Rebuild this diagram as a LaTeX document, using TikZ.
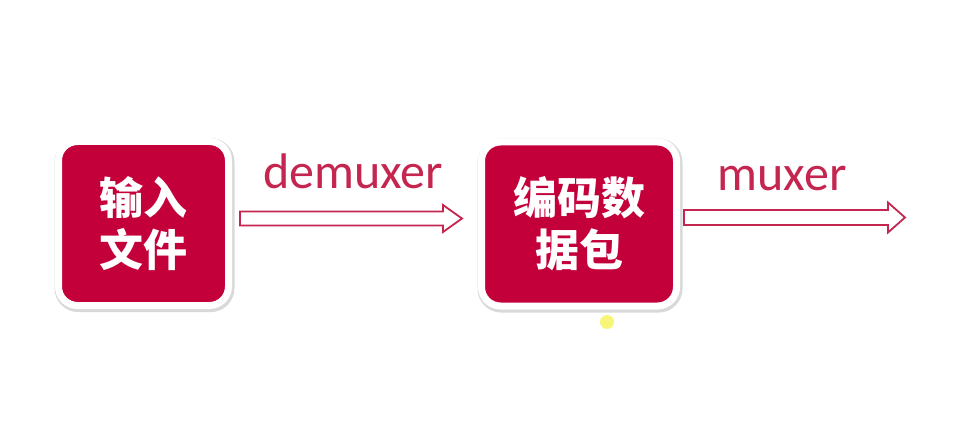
\documentclass[tikz,border=0pt]{standalone}
\usepackage{fontspec}
\setmainfont{Carlito}
\newfontfamily\cjk{Noto Sans CJK SC}
\usetikzlibrary{calc}
\definecolor{boxred}{RGB}{196,0,58}
\definecolor{txtred}{RGB}{196,38,80}
\definecolor{dotyellow}{RGB}{248,246,120}
\tikzset{
  redbox/.style={rectangle, rounded corners=19pt, fill=boxred, draw=white, line width=7pt,
    preaction={draw=black!15, line width=10pt, transform canvas={xshift=1pt,yshift=-1.6pt}},
    text=white, font=\cjk\bfseries\fontsize{44}{52}\selectfont, align=center, inner sep=0pt},
  label/.style={text=txtred, font=\fontsize{50}{50}\selectfont, anchor=base, inner sep=0pt},
  hollow/.style={draw=txtred, fill=white, line width=1.8pt, line join=miter},
}
\begin{document}
\begin{tikzpicture}[x=1pt,y=-1pt]
\useasboundingbox[fill=white] (0,0) rectangle (965,422);
\node[redbox, minimum width=170pt, minimum height=164pt] (b1) at (143.5,223.5) {输入\\文件};
\node[redbox, minimum width=195pt, minimum height=164pt] (b2) at (579,224) {编码数\\据包};
\node[label] (t1) at (353,188) {demuxer};
\node[label] (t2) at (782,190) {muxer};
\coordinate (s1) at (240,218.5);
\coordinate (e1) at (462,218.5);
\coordinate (s2) at (684,217.5);
\coordinate (e2) at (905,217.5);
\draw[hollow] ($(s1)+(0,-7)$) -- ($(e1)+(-19,-7)$) -- ($(e1)+(-19,-13.5)$) -- (e1)
  -- ($(e1)+(-19,13.5)$) -- ($(e1)+(-19,7)$) -- ($(s1)+(0,7)$) -- cycle;
\draw[hollow] ($(s2)+(0,-7.5)$) -- ($(e2)+(-17,-7.5)$) -- ($(e2)+(-17,-15)$) -- (e2)
  -- ($(e2)+(-17,15)$) -- ($(e2)+(-17,7.5)$) -- ($(s2)+(0,7.5)$) -- cycle;
\node[circle, fill=dotyellow, minimum size=14pt, inner sep=0pt] (dot) at (607,322) {};
\end{tikzpicture}
\end{document}
